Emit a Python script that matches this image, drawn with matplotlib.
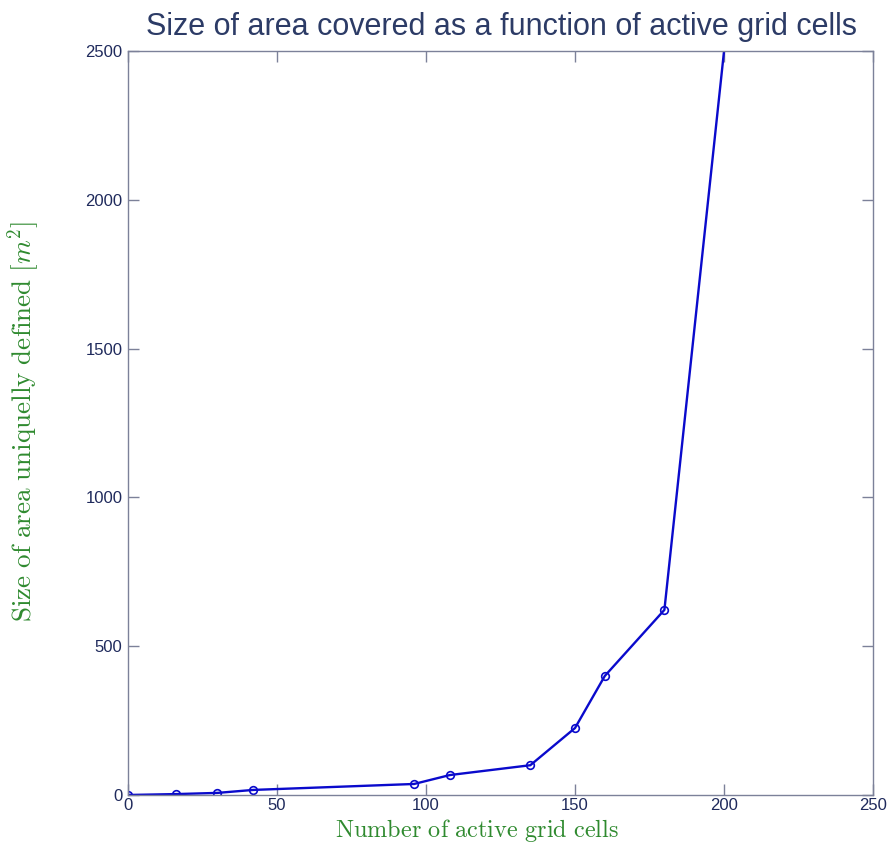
import matplotlib
matplotlib.use("Agg")
import matplotlib.pyplot as plt

# active grid cells vs. uniquely defined area
cells = [0, 16, 30, 42, 96, 108, 135, 150, 160, 180, 216]
area = [0, 3, 7, 17, 37, 67, 100, 225, 400, 622, 4000]

x_ticks = [0, 50, 100, 150, 200, 250]
y_ticks = [0, 500, 1000, 1500, 2000, 2500]

plt.rcParams["mathtext.fontset"] = "cm"

axis_col = "#7c8199"
tick_col = "#1f2a5c"
label_col = "#2f8a2f"

fig = plt.figure(figsize=(8.89, 8.46), dpi=100)
ax = fig.add_axes([0.144, 0.0603, 0.838, 0.8794])

ax.plot(cells, area, color="#0a0acc", linewidth=1.7, marker="o",
        markersize=5.5, markerfacecolor="none", markeredgewidth=1.2)

ax.set_xlim(0, 250)
ax.set_ylim(0, 2500)
ax.set_xticks(x_ticks)
ax.set_yticks(y_ticks)

for s in ax.spines.values():
    s.set_color(axis_col)
    s.set_linewidth(1.0)

ax.tick_params(direction="in", length=8, width=1.0, color=axis_col,
               top=True, right=True, labelcolor=tick_col, labelsize=12)
ax.tick_params(axis="y", pad=4)
ax.tick_params(axis="x", pad=2)
for lab in ax.get_xticklabels() + ax.get_yticklabels():
    lab.set_fontfamily("Liberation Sans")

fig.text(0.5636, 0.9586, "Size of area covered as a function of active grid cells",
         ha="center", va="baseline", fontsize=22, color="#2c3b66",
         fontfamily="Liberation Sans")

fig.text(0.5366, 0.0106, r"$\mathrm{Number\ of\ active\ grid\ cells}$",
         ha="center", va="baseline", fontsize=17.5, color=label_col)
fig.text(0.027, 0.502, r"$\mathrm{Size\ of\ area\ uniquelly\ defined\ }[m^2]$",
         ha="center", va="center", rotation=90, fontsize=19.5, color=label_col)

fig.savefig("out.png", dpi=100)
